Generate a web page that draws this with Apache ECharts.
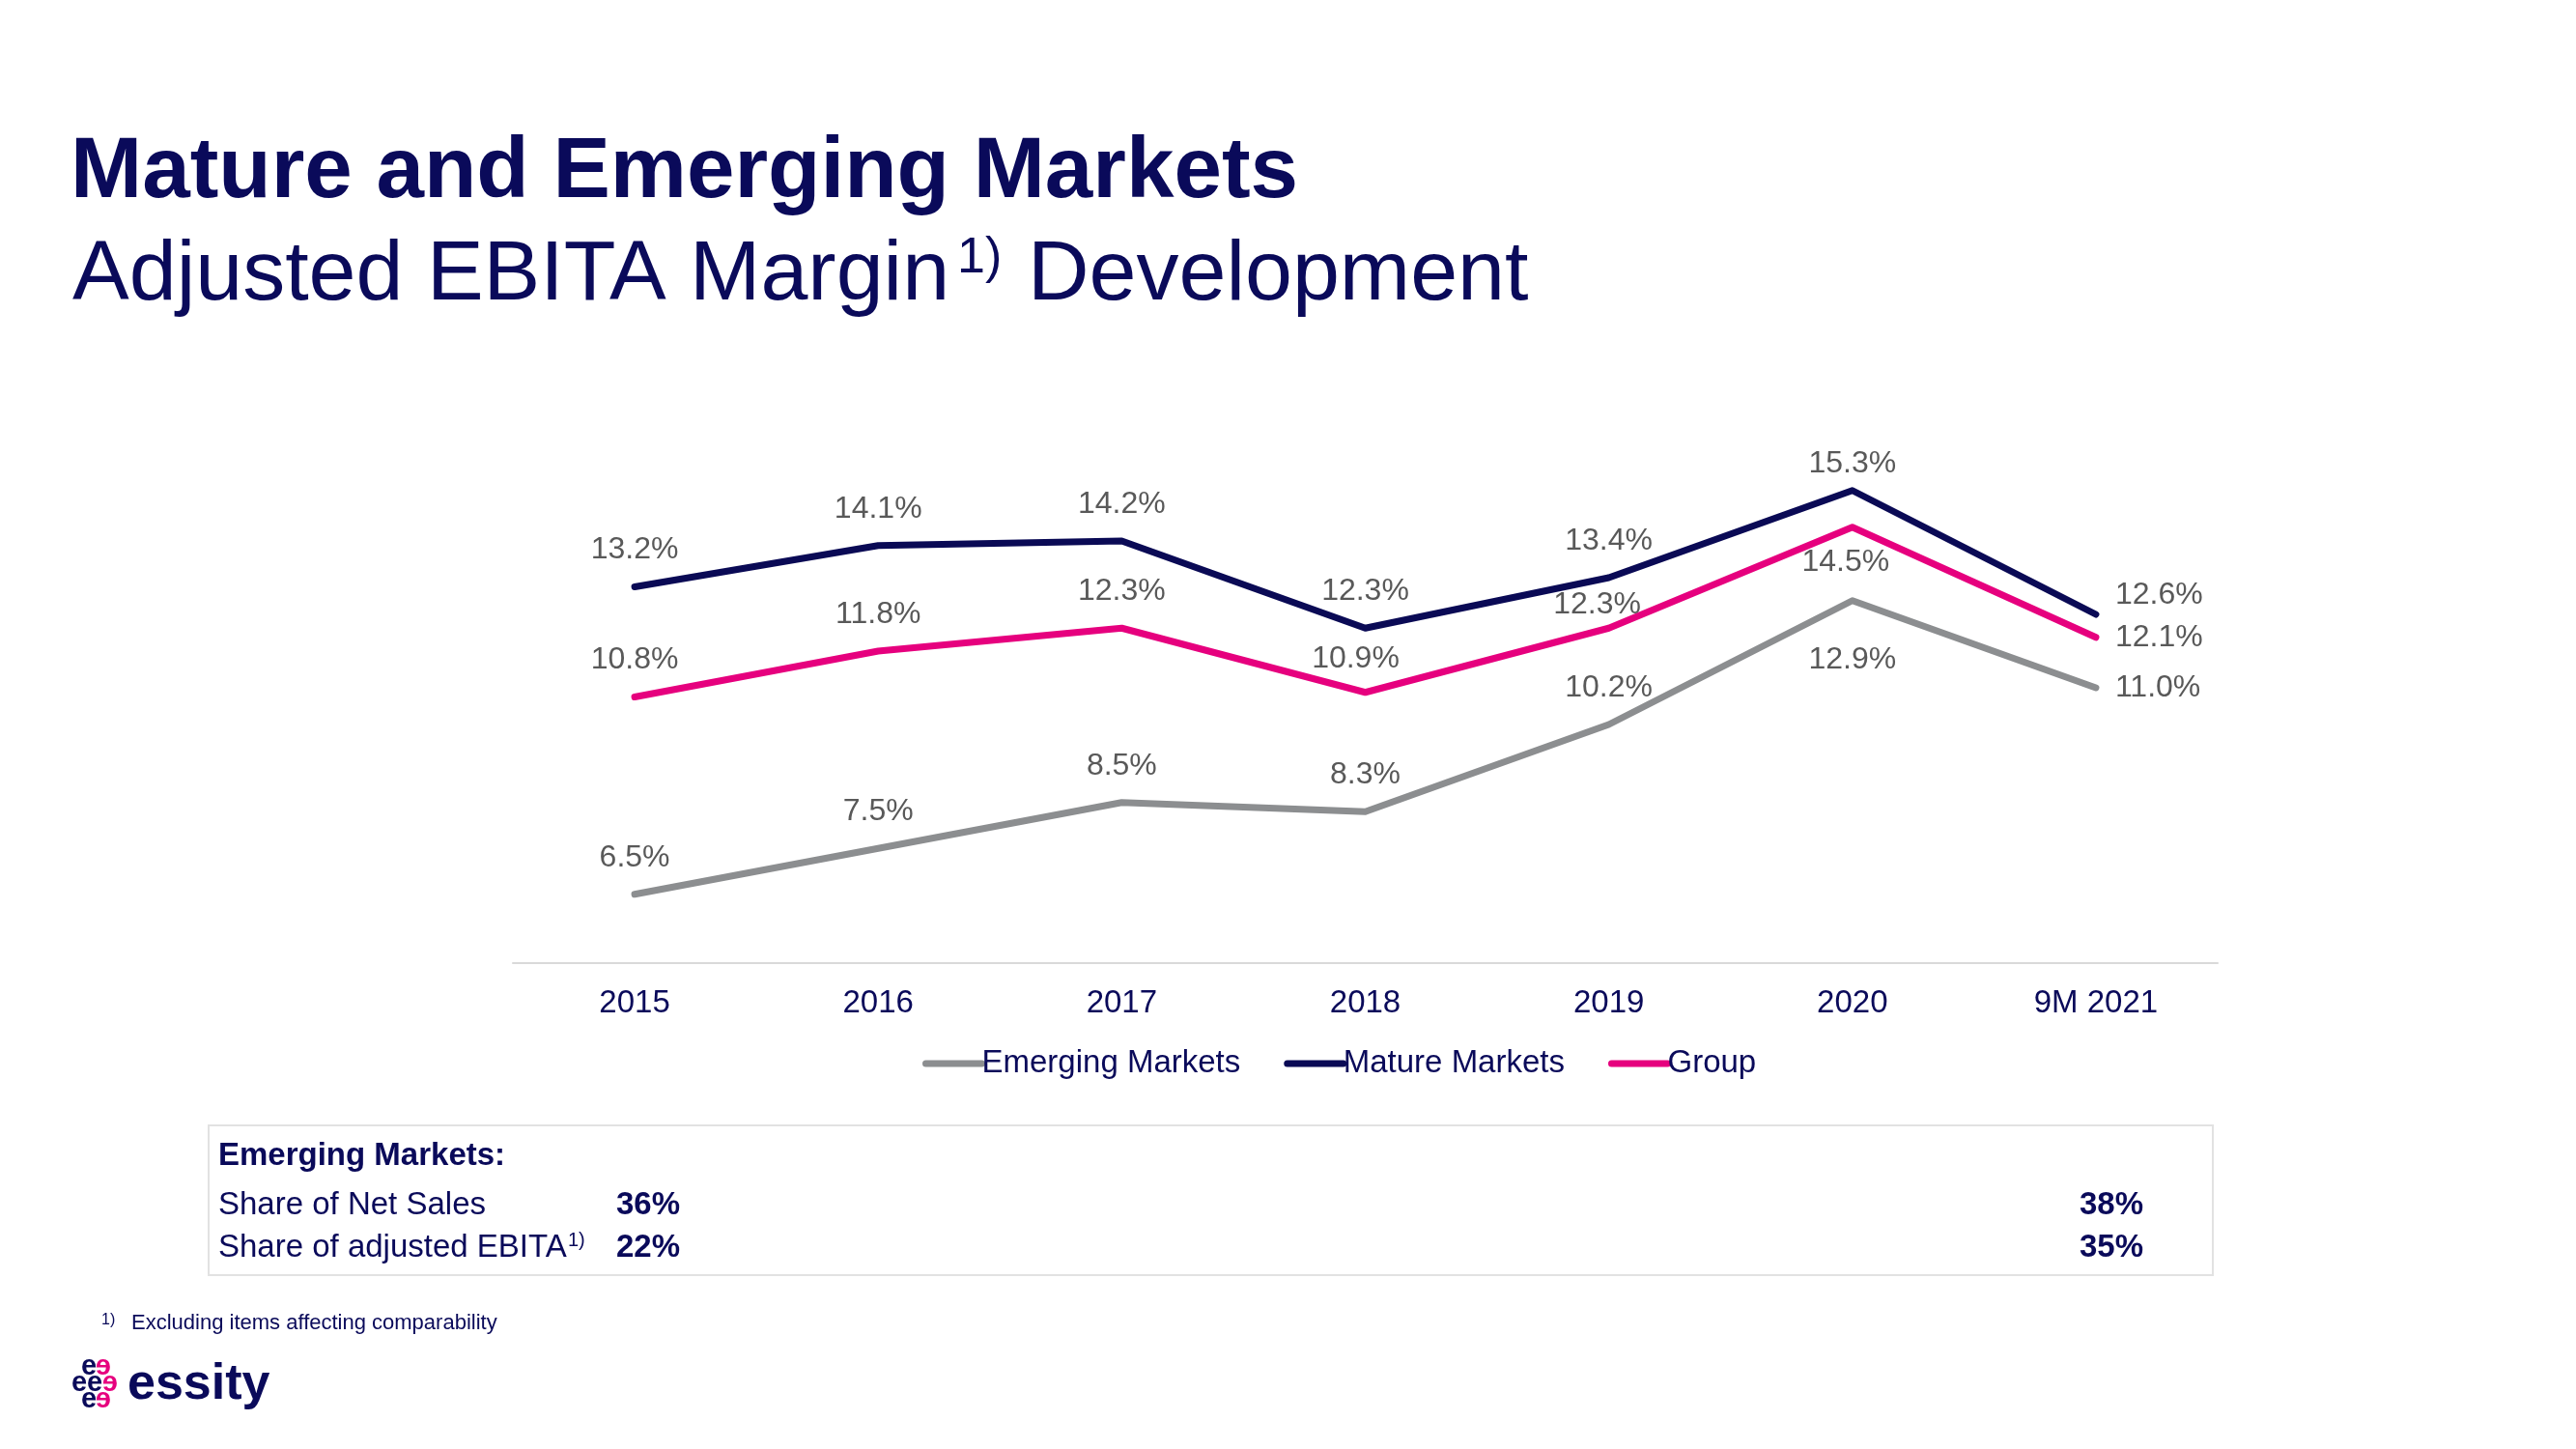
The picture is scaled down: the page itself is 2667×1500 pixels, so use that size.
<!DOCTYPE html>
<html>
<head>
<meta charset="utf-8">
<script src="https://cdn.jsdelivr.net/npm/echarts@6/dist/echarts.min.js"></script>
<style>
html,body{margin:0;padding:0;background:#fff;}
#c{width:2667px;height:1500px;}
</style>
</head>
<body>
<div id="c"></div>
<script>
// ---- data ----
const categories = ['2015', '2016', '2017', '2018', '2019', '2020', '9M 2021'];
const emergingMarkets = [6.5, 7.5, 8.5, 8.3, 10.2, 12.9, 11.0];
const matureMarkets = [13.2, 14.1, 14.2, 12.3, 13.4, 15.3, 12.6];
const group = [10.8, 11.8, 12.3, 10.9, 12.3, 14.5, 12.1];
const seriesNames = ['Emerging Markets', 'Mature Markets', 'Group'];
const tableTitle = 'Emerging Markets:';
const tableRowLabels = ['Share of Net Sales', 'Share of adjusted EBITA'];
const tableFirst = ['36%', '22%'];
const tableLast = ['38%', '35%'];

// ---- styles ----
const FONT = '"Liberation Sans", Arial, Helvetica, sans-serif';
const NAVY = '#0a0a5a';
const colors = ['#8c8e90', '#0a0a55', '#e6007e'];
const LABEL = '#595959';

// label placement tweaks (per series, per point index)
const labelTweaks = {
  0: { 5: { position: 'bottom', distance: 43 }, 6: { position: 'right', distance: 20 } },
  1: { 5: { distance: 10 }, 6: { position: 'right', distance: 20, offset: [0, -20] } },
  2: { 3: { distance: 17, offset: [-10, 0] }, 4: { distance: 6, offset: [-12, 0] },
       5: { position: 'bottom', distance: 18, offset: [-7, 0] }, 6: { position: 'right', distance: 20 } }
};

function buildData(values, si) {
  return values.map((v, i) => {
    const t = (labelTweaks[si] || {})[i];
    return t ? { value: v, label: t } : v;
  });
}

const seriesData = [emergingMarkets, matureMarkets, group];

const chart = echarts.init(document.getElementById('c'), null, { renderer: 'canvas' });

const series = seriesData.map((vals, si) => ({
  name: seriesNames[si],
  type: 'line',
  data: buildData(vals, si),
  symbol: 'circle',
  symbolSize: 0.01,
  showSymbol: true,
  lineStyle: { width: 7, color: colors[si], cap: 'round', join: 'round' },
  itemStyle: { color: colors[si] },
  z: si === 0 ? 2 : (si === 1 ? 3 : 4),
  label: {
    show: true,
    position: 'top',
    distance: 20,
    color: LABEL,
    fontFamily: FONT,
    fontSize: 32,
    lineHeight: 36,
    formatter: p => p.value.toFixed(1) + '%'
  },
  emphasis: { disabled: true },
  animation: false
}));

const g = [];
function txt(text, x, y, size, opts) {
  opts = opts || {};
  g.push({
    type: 'text',
    x: opts.ex || 0, y: opts.ey || 0,
    scaleX: opts.scaleX || 1,
    style: {
      text: text, x: x, y: y,
      fontFamily: FONT, fontSize: size,
      fontWeight: opts.bold ? 'bold' : 'normal',
      fill: opts.color || NAVY,
      align: opts.align || 'left',
      verticalAlign: 'middle'
    },
    z: 10
  });
}

// Titles
txt('Mature and Emerging Markets', 73, 179, 89, { bold: true });
txt('Adjusted EBITA Margin', 75, 286, 88);
txt('1)', 991, 268, 52);
txt('Development', 1064, 286, 88);

// Table box
g.push({
  type: 'rect',
  shape: { x: 216, y: 1165, width: 2075, height: 155 },
  style: { fill: 'none', stroke: '#e2e2e2', lineWidth: 2 },
  z: 5
});
txt(tableTitle, 226, 1197, 33, { bold: true });
const rowY = [1248, 1292];
tableRowLabels.forEach((lab, i) => {
  txt(lab, 226, rowY[i], 33);
  txt(tableFirst[i], 638, rowY[i], 33, { bold: true });
  txt(tableLast[i], 2153, rowY[i], 33, { bold: true });
});
txt('1)', 588, 1284, 20);

// Footnote
txt('1)', 105, 1367, 16);
txt('Excluding items affecting comparability', 136, 1370, 22);

// Logo
const eRows = [
  [[92, NAVY, 1], [107, colors[2], -1]],
  [[82, NAVY, 1], [98, NAVY, 1], [114, colors[2], -1]],
  [[92, NAVY, 1], [107, colors[2], -1]]
];
const eY = [1415, 1432, 1449];
eRows.forEach((row, r) => {
  row.forEach(([cx, col, sx]) => {
    txt('e', 0, 0, 29, { bold: true, color: col, align: 'center', ex: cx, ey: eY[r], scaleX: sx });
  });
});
txt('essity', 132, 1434, 52, { bold: true });

const option = {
  backgroundColor: '#ffffff',
  animation: false,
  textStyle: { fontFamily: FONT },
  grid: { left: 531, right: 371, top: 427, bottom: 503, containLabel: false },
  xAxis: {
    type: 'category',
    data: categories,
    boundaryGap: true,
    axisLine: { show: true, lineStyle: { color: '#d9d9d9', width: 2 } },
    axisTick: { show: false },
    axisLabel: { color: NAVY, fontSize: 33, fontFamily: FONT, margin: 24, lineHeight: 36 },
    splitLine: { show: false }
  },
  yAxis: {
    type: 'value', min: 5, max: 17, show: false,
    splitLine: { show: false }
  },
  legend: {
    data: seriesNames,
    left: 955,
    top: 1083,
    padding: 0,
    itemGap: 45,
    itemWidth: 58,
    itemHeight: 10,
    lineStyle: { width: 7, cap: 'round' },
    itemStyle: { opacity: 0 },
    textStyle: { color: NAVY, fontSize: 33, fontFamily: FONT, lineHeight: 36, padding: [0, 0, 0, -5] },
    selectedMode: false
  },
  series: series,
  graphic: g
};
chart.setOption(option);
</script>
</body>
</html>
